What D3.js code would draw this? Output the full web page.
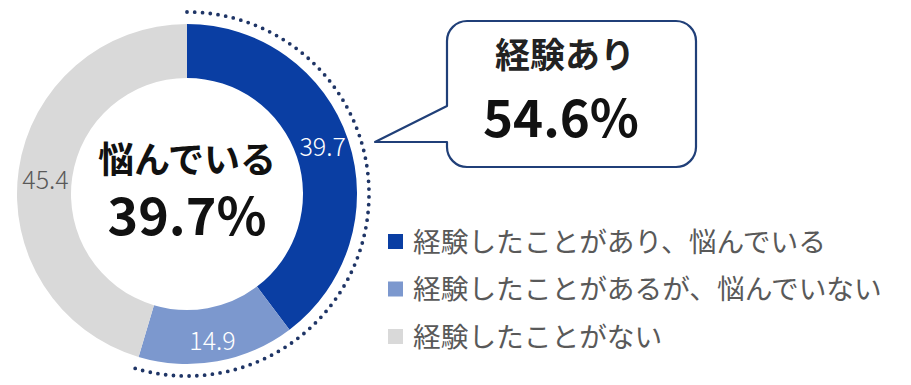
<!DOCTYPE html>
<html>
<head>
<meta charset="utf-8">
<script src="https://cdn.jsdelivr.net/npm/d3@7"></script>
<style>
  html, body { margin: 0; padding: 0; background: #fff; }
  svg { display: block; }
  text { font-family: "Noto Sans CJK JP", "Noto Sans", sans-serif; }
</style>
</head>
<body>
<svg id="chart" width="911" height="385"></svg>
<script>
// Survey answers (%)
const categories = ["経験したことがあり、悩んでいる", "経験したことがあるが、悩んでいない", "経験したことがない"];
const values = [39.7, 14.9, 45.4];
const colors = ["#0a3ea3", "#7c98ce", "#d9d9d9"];
const labelColors = ["#ffffff", "#ffffff", "#595959"];

const centerTitle = "悩んでいる";
const centerValue = values[0];
const calloutTitle = "経験あり";
const calloutValue = values[0] + values[1];

const svg = d3.select("#chart");
const cx = 187, cy = 194;
const outerR = 170, innerR = 116, ringR = 182;

const g = svg.append("g").attr("transform", `translate(${cx},${cy})`);

const pie = d3.pie().sort(null).value(d => d)
  .startAngle(0).endAngle(2 * Math.PI);
const arcs = pie(values);
const arc = d3.arc().innerRadius(innerR).outerRadius(outerR);

g.selectAll("path.slice")
  .data(arcs)
  .enter().append("path")
  .attr("class", "slice")
  .attr("d", arc)
  .attr("fill", (d, i) => colors[i]);

// Slice value labels at the ring centroids
g.selectAll("text.val")
  .data(arcs)
  .enter().append("text")
  .attr("class", "val")
  .attr("x", d => arc.centroid(d)[0])
  .attr("y", d => arc.centroid(d)[1])
  .attr("dy", (d, i) => i === 0 ? "0.3em" : "0.62em")
  .attr("text-anchor", "middle")
  .attr("font-size", 25)
  .attr("font-weight", 300)
  .attr("fill", (d, i) => labelColors[i])
  .text(d => d.data.toFixed(1));

// Dotted arc spanning the "experienced" share
const expAngle = (calloutValue / d3.sum(values)) * 2 * Math.PI;
const ringPath = d3.path();
ringPath.arc(0, 0, ringR, -Math.PI / 2, -Math.PI / 2 + expAngle);
g.append("path")
  .attr("d", ringPath.toString())
  .attr("fill", "none")
  .attr("stroke", "#1f3566")
  .attr("stroke-width", 3.8)
  .attr("stroke-linecap", "round")
  .attr("stroke-dasharray", "0 7.8");

// Center text
g.append("text")
  .attr("x", 0).attr("y", -21)
  .attr("text-anchor", "middle")
  .attr("font-size", 36).attr("font-weight", 700)
  .attr("fill", "#111")
  .text(centerTitle);
g.append("text")
  .attr("x", 0).attr("y", 41)
  .attr("text-anchor", "middle")
  .attr("font-size", 52).attr("font-weight", 700)
  .attr("fill", "#111")
  .text(centerValue.toFixed(1) + "%");

// Callout box
const bx0 = 447, bx1 = 696, by0 = 21, by1 = 167, br = 20;
const tipX = 375, tipY = 142, notchTop = 106;
const callout = d3.path();
callout.moveTo(bx0 + br, by0);
callout.lineTo(bx1 - br, by0);
callout.arcTo(bx1, by0, bx1, by0 + br, br);
callout.lineTo(bx1, by1 - br);
callout.arcTo(bx1, by1, bx1 - br, by1, br);
callout.lineTo(bx0 + br, by1);
callout.arcTo(bx0, by1, bx0, by1 - br, br);
callout.lineTo(bx0, tipY);
callout.lineTo(tipX, tipY);
callout.lineTo(bx0, notchTop);
callout.lineTo(bx0, by0 + br);
callout.arcTo(bx0, by0, bx0 + br, by0, br);
callout.closePath();
svg.append("path")
  .attr("d", callout.toString())
  .attr("fill", "#fff")
  .attr("stroke", "#203f78")
  .attr("stroke-width", 2.2)
  .attr("stroke-linejoin", "round");

svg.append("text")
  .attr("x", 565).attr("y", 68)
  .attr("text-anchor", "middle")
  .attr("font-size", 35).attr("font-weight", 700)
  .attr("fill", "#222")
  .text(calloutTitle);
svg.append("text")
  .attr("x", 561).attr("y", 137)
  .attr("text-anchor", "middle")
  .attr("font-size", 51).attr("font-weight", 700)
  .attr("fill", "#111")
  .text(calloutValue.toFixed(1) + "%");

// Legend
const legend = svg.append("g").attr("transform", "translate(388,242)");
const rows = legend.selectAll("g")
  .data(categories)
  .enter().append("g")
  .attr("transform", (d, i) => `translate(0,${i * 47.5})`);
rows.append("rect")
  .attr("x", 0).attr("y", -8)
  .attr("width", 15).attr("height", 15)
  .attr("fill", (d, i) => colors[i]);
rows.append("text")
  .attr("x", 25).attr("y", 0)
  .attr("dy", "0.36em")
  .attr("font-size", 27.7)
  .attr("fill", "#595959")
  .text(d => d);
</script>
</body>
</html>
